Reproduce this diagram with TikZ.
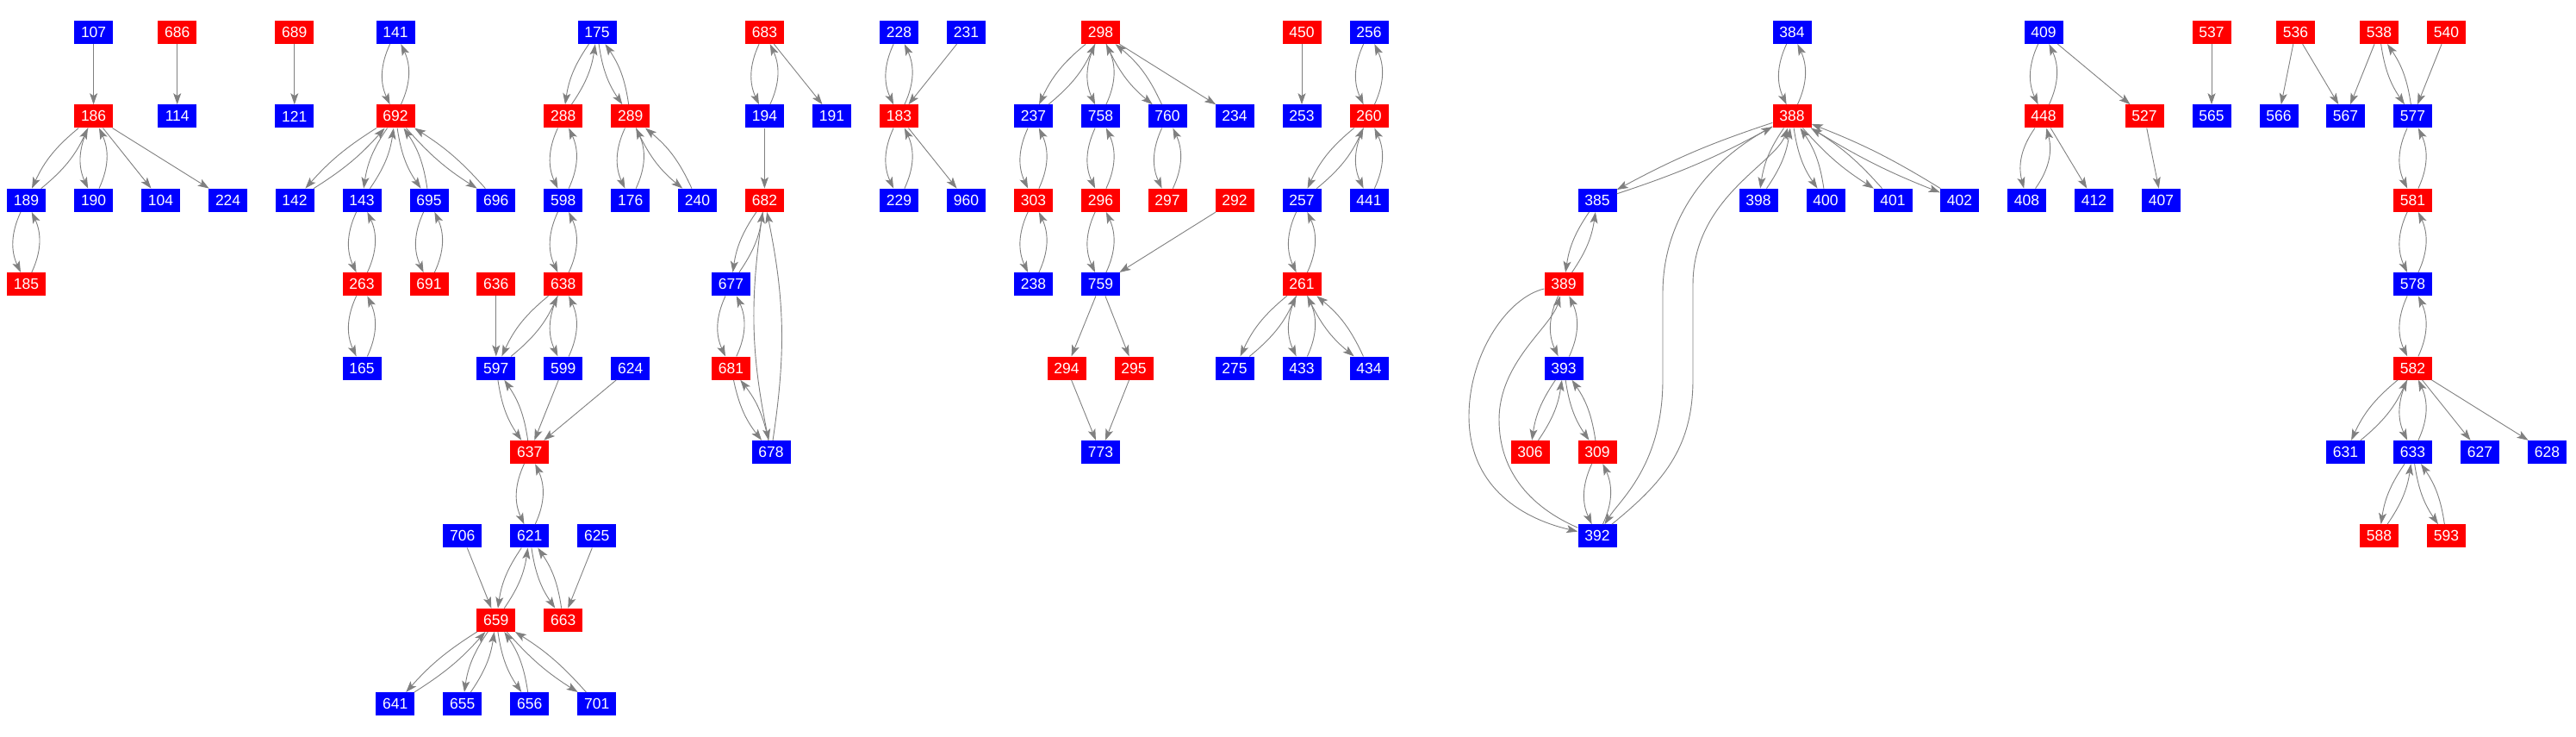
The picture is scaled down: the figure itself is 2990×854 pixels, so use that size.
\documentclass[tikz,border=0pt]{standalone}
\usepackage{fontspec}
\setsansfont{Liberation Sans}
\usetikzlibrary{arrows.meta}
\definecolor{nblue}{RGB}{0,0,255}
\definecolor{nred}{RGB}{255,0,0}
\definecolor{egray}{RGB}{128,128,128}
\tikzstyle{bn}=[rectangle, inner sep=0pt, fill=nblue, text=white, minimum width=45pt, minimum height=27pt, font=\sffamily\fontsize{17.5pt}{17.5pt}\selectfont]
\tikzstyle{rn}=[bn, fill=nred]
\tikzstyle{edge}=[draw=egray, line width=0.9pt, -{Stealth[length=13pt,width=9pt,inset=3pt]}]
\tikzstyle{pair}=[edge, bend right=25]
\tikzstyle{dpair}=[edge, bend right=13]
\tikzstyle{lpair}=[edge, bend right=8]
\tikzstyle{xpair}=[edge, bend right=5]

\begin{document}
\begin{tikzpicture}[x=1pt, y=1pt]
				\useasboundingbox (0,0) rectangle (2990,-854);

				%Top row
				\draw (108.6,-37.5) node[bn] (n107) {107};
				\draw (205.7,-37.5) node[rn] (n686) {686};
				\draw (341.8,-37.5) node[rn] (n689) {689};
				\draw (459,-37.5) node[bn] (n141) {141};
				\draw (693,-37.5) node[bn] (n175) {175};
				\draw (887.4,-37.5) node[rn] (n683) {683};
				\draw (1043.5,-37.5) node[bn] (n228) {228};
				\draw (1121.5,-37.5) node[bn] (n231) {231};
				\draw (1277.5,-37.5) node[rn] (n298) {298};
				\draw (1511,-37.5) node[rn] (n450) {450};
				\draw (1589,-37.5) node[bn] (n256) {256};
				\draw (2080,-37.5) node[bn] (n384) {384};
				\draw (2372,-37.5) node[bn] (n409) {409};
				\draw (2567,-37.5) node[rn] (n537) {537};
				\draw (2664.5,-37.5) node[rn] (n536) {536};
				\draw (2761.5,-37.5) node[rn] (n538) {538};
				\draw (2839.5,-37.5) node[rn] (n540) {540};

				%Second row
				\draw (108.6,-134.9) node[rn] (n186) {186};
				\draw (205.7,-134.9) node[bn] (n114) {114};
				\draw (341.8,-134.9) node[bn] (n121) {121};
				\draw (459,-134.9) node[rn] (n692) {692};
				\draw (653.8,-134.9) node[rn] (n288) {288};
				\draw (731.8,-134.9) node[rn] (n289) {289};
				\draw (887.4,-134.9) node[bn] (n194) {194};
				\draw (965.5,-134.9) node[bn] (n191) {191};
				\draw (1043.5,-134.9) node[rn] (n183) {183};
				\draw (1199.5,-134.9) node[bn] (n237) {237};
				\draw (1277.5,-134.9) node[bn] (n758) {758};
				\draw (1355,-134.9) node[bn] (n760) {760};
				\draw (1433,-134.9) node[bn] (n234) {234};
				\draw (1511,-134.9) node[bn] (n253) {253};
				\draw (1589,-134.9) node[rn] (n260) {260};
				\draw (2080,-134.9) node[rn] (n388) {388};
				\draw (2372,-134.9) node[rn] (n448) {448};
				\draw (2489,-134.9) node[rn] (n527) {527};
				\draw (2567,-134.9) node[bn] (n565) {565};
				\draw (2645,-134.9) node[bn] (n566) {566};
				\draw (2722.5,-134.9) node[bn] (n567) {567};
				\draw (2800.5,-134.9) node[bn] (n577) {577};

				%Third row
				\draw (30.4,-232.3) node[bn] (n189) {189};
				\draw (108.6,-232.3) node[bn] (n190) {190};
				\draw (186.4,-232.3) node[bn] (n104) {104};
				\draw (264.6,-232.3) node[bn] (n224) {224};
				\draw (342,-232.3) node[bn] (n142) {142};
				\draw (420,-232.3) node[bn] (n143) {143};
				\draw (498,-232.3) node[bn] (n695) {695};
				\draw (575.8,-232.3) node[bn] (n696) {696};
				\draw (653.8,-232.3) node[bn] (n598) {598};
				\draw (731.8,-232.3) node[bn] (n176) {176};
				\draw (809.5,-232.3) node[bn] (n240) {240};
				\draw (887.4,-232.3) node[rn] (n682) {682};
				\draw (1043.5,-232.3) node[bn] (n229) {229};
				\draw (1121.5,-232.3) node[bn] (n960) {960};
				\draw (1199.5,-232.3) node[rn] (n303) {303};
				\draw (1277.5,-232.3) node[rn] (n296) {296};
				\draw (1355,-232.3) node[rn] (n297) {297};
				\draw (1433,-232.3) node[rn] (n292) {292};
				\draw (1511,-232.3) node[bn] (n257) {257};
				\draw (1589,-232.3) node[bn] (n441) {441};
				\draw (1854,-232.3) node[bn] (n385) {385};
				\draw (2041,-232.3) node[bn] (n398) {398};
				\draw (2119,-232.3) node[bn] (n400) {400};
				\draw (2197,-232.3) node[bn] (n401) {401};
				\draw (2274.5,-232.3) node[bn] (n402) {402};
				\draw (2352.5,-232.3) node[bn] (n408) {408};
				\draw (2430.5,-232.3) node[bn] (n412) {412};
				\draw (2508.5,-232.3) node[bn] (n407) {407};
				\draw (2800.5,-232.3) node[rn] (n581) {581};

				%Fourth row
				\draw (30.4,-329.7) node[rn] (n185) {185};
				\draw (420,-329.7) node[rn] (n263) {263};
				\draw (498,-329.7) node[rn] (n691) {691};
				\draw (575.8,-329.7) node[rn] (n636) {636};
				\draw (653.8,-329.7) node[rn] (n638) {638};
				\draw (848.4,-329.7) node[bn] (n677) {677};
				\draw (1199.5,-329.7) node[bn] (n238) {238};
				\draw (1277.5,-329.7) node[bn] (n759) {759};
				\draw (1511,-329.7) node[rn] (n261) {261};
				\draw (1815,-329.7) node[rn] (n389) {389};
				\draw (2800.5,-329.7) node[bn] (n578) {578};

				%Fifth row
				\draw (420,-427.1) node[bn] (n165) {165};
				\draw (575.8,-427.1) node[bn] (n597) {597};
				\draw (653.8,-427.1) node[bn] (n599) {599};
				\draw (731.8,-427.1) node[bn] (n624) {624};
				\draw (848.4,-427.1) node[rn] (n681) {681};
				\draw (1238,-427.1) node[rn] (n294) {294};
				\draw (1316,-427.1) node[rn] (n295) {295};
				\draw (1433,-427.1) node[bn] (n275) {275};
				\draw (1511,-427.1) node[bn] (n433) {433};
				\draw (1589,-427.1) node[bn] (n434) {434};
				\draw (1815,-427.1) node[bn] (n393) {393};
				\draw (2800.5,-427.1) node[rn] (n582) {582};

				%Sixth row
				\draw (614.8,-524.5) node[rn] (n637) {637};
				\draw (895,-524.5) node[bn] (n678) {678};
				\draw (1277.5,-524.5) node[bn] (n773) {773};
				\draw (1776,-524.5) node[rn] (n306) {306};
				\draw (1854,-524.5) node[rn] (n309) {309};
				\draw (2722.5,-524.5) node[bn] (n631) {631};
				\draw (2800.5,-524.5) node[bn] (n633) {633};
				\draw (2878.5,-524.5) node[bn] (n627) {627};
				\draw (2956.5,-524.5) node[bn] (n628) {628};

				%Lower rows
				\draw (536.8,-621.9) node[bn] (n706) {706};
				\draw (614.8,-621.9) node[bn] (n621) {621};
				\draw (692.8,-621.9) node[bn] (n625) {625};
				\draw (1854,-621.9) node[bn] (n392) {392};
				\draw (2761.5,-621.9) node[rn] (n588) {588};
				\draw (2839.5,-621.9) node[rn] (n593) {593};
				\draw (575.8,-719.3) node[rn] (n659) {659};
				\draw (653.8,-719.3) node[rn] (n663) {663};
				\draw (458.8,-816.7) node[bn] (n641) {641};
				\draw (536.8,-816.7) node[bn] (n655) {655};
				\draw (614.8,-816.7) node[bn] (n656) {656};
				\draw (692.8,-816.7) node[bn] (n701) {701};

				%Single edges
				\draw[edge] (n107) -- (n186);
				\draw[edge] (n686) -- (n114);
				\draw[edge] (n689) -- (n121);
				\draw[edge] (n186) -- (n104);
				\draw[edge] (n186) -- (n224);
				\draw[edge] (n636) -- (n597);
				\draw[edge] (n599) -- (n637);
				\draw[edge] (n624) -- (n637);
				\draw[edge] (n706) -- (n659);
				\draw[edge] (n625) -- (n663);
				\draw[edge] (n683) -- (n191);
				\draw[edge] (n194) -- (n682);
				\draw[edge] (n231) -- (n183);
				\draw[edge] (n183) -- (n960);
				\draw[edge] (n298) -- (n234);
				\draw[edge] (n292) -- (n759);
				\draw[edge] (n759) -- (n294);
				\draw[edge] (n759) -- (n295);
				\draw[edge] (n294) -- (n773);
				\draw[edge] (n295) -- (n773);
				\draw[edge] (n450) -- (n253);
				\draw[edge] (n409) -- (n527);
				\draw[edge] (n448) -- (n412);
				\draw[edge] (n527) -- (n407);
				\draw[edge] (n537) -- (n565);
				\draw[edge] (n536) -- (n566);
				\draw[edge] (n536) -- (n567);
				\draw[edge] (n538) -- (n567);
				\draw[edge] (n540) -- (n577);
				\draw[edge] (n582) -- (n627);
				\draw[edge] (n582) -- (n628);

				%Edges both ways: 186 and 692
				\draw[dpair] (n186) to (n189);
				\draw[dpair] (n189) to (n186);
				\draw[pair] (n186) to (n190);
				\draw[pair] (n190) to (n186);
				\draw[pair] (n189) to (n185);
				\draw[pair] (n185) to (n189);
				\draw[pair] (n141) to (n692);
				\draw[pair] (n692) to (n141);
				\draw[lpair] (n692) to (n142);
				\draw[lpair] (n142) to (n692);
				\draw[dpair] (n692) to (n143);
				\draw[dpair] (n143) to (n692);
				\draw[dpair] (n692) to (n695);
				\draw[dpair] (n695) to (n692);
				\draw[lpair] (n692) to (n696);
				\draw[lpair] (n696) to (n692);
				\draw[pair] (n143) to (n263);
				\draw[pair] (n263) to (n143);
				\draw[pair] (n695) to (n691);
				\draw[pair] (n691) to (n695);
				\draw[pair] (n263) to (n165);
				\draw[pair] (n165) to (n263);

				%175 down to 659
				\draw[dpair] (n175) to (n288);
				\draw[dpair] (n288) to (n175);
				\draw[dpair] (n175) to (n289);
				\draw[dpair] (n289) to (n175);
				\draw[pair] (n288) to (n598);
				\draw[pair] (n598) to (n288);
				\draw[pair] (n289) to (n176);
				\draw[pair] (n176) to (n289);
				\draw[dpair] (n289) to (n240);
				\draw[dpair] (n240) to (n289);
				\draw[pair] (n598) to (n638);
				\draw[pair] (n638) to (n598);
				\draw[dpair] (n638) to (n597);
				\draw[dpair] (n597) to (n638);
				\draw[pair] (n638) to (n599);
				\draw[pair] (n599) to (n638);
				\draw[dpair] (n597) to (n637);
				\draw[dpair] (n637) to (n597);
				\draw[pair] (n637) to (n621);
				\draw[pair] (n621) to (n637);
				\draw[dpair] (n621) to (n659);
				\draw[dpair] (n659) to (n621);
				\draw[dpair] (n621) to (n663);
				\draw[dpair] (n663) to (n621);
				\draw[lpair] (n659) to (n641);
				\draw[lpair] (n641) to (n659);
				\draw[dpair] (n659) to (n655);
				\draw[dpair] (n655) to (n659);
				\draw[dpair] (n659) to (n656);
				\draw[dpair] (n656) to (n659);
				\draw[lpair] (n659) to (n701);
				\draw[lpair] (n701) to (n659);

				%683 and 183
				\draw[pair] (n683) to (n194);
				\draw[pair] (n194) to (n683);
				\draw[dpair] (n682) to (n677);
				\draw[dpair] (n677) to (n682);
				\draw[pair] (n677) to (n681);
				\draw[pair] (n681) to (n677);
				\draw[dpair] (n681) to (n678);
				\draw[dpair] (n678) to (n681);
				\draw[edge, bend right=10] (n682) to (n678);
				\draw[edge, bend right=10] (n678) to (n682);
				\draw[pair] (n228) to (n183);
				\draw[pair] (n183) to (n228);
				\draw[pair] (n183) to (n229);
				\draw[pair] (n229) to (n183);

				%298 and 260
				\draw[dpair] (n298) to (n237);
				\draw[dpair] (n237) to (n298);
				\draw[pair] (n298) to (n758);
				\draw[pair] (n758) to (n298);
				\draw[dpair] (n298) to (n760);
				\draw[dpair] (n760) to (n298);
				\draw[pair] (n237) to (n303);
				\draw[pair] (n303) to (n237);
				\draw[pair] (n758) to (n296);
				\draw[pair] (n296) to (n758);
				\draw[pair] (n760) to (n297);
				\draw[pair] (n297) to (n760);
				\draw[pair] (n303) to (n238);
				\draw[pair] (n238) to (n303);
				\draw[pair] (n296) to (n759);
				\draw[pair] (n759) to (n296);
				\draw[pair] (n256) to (n260);
				\draw[pair] (n260) to (n256);
				\draw[dpair] (n260) to (n257);
				\draw[dpair] (n257) to (n260);
				\draw[pair] (n260) to (n441);
				\draw[pair] (n441) to (n260);
				\draw[pair] (n257) to (n261);
				\draw[pair] (n261) to (n257);
				\draw[dpair] (n261) to (n275);
				\draw[dpair] (n275) to (n261);
				\draw[pair] (n261) to (n433);
				\draw[pair] (n433) to (n261);
				\draw[dpair] (n261) to (n434);
				\draw[dpair] (n434) to (n261);

				%388
				\draw[pair] (n384) to (n388);
				\draw[pair] (n388) to (n384);
				\draw[xpair] (n388) to (n385);
				\draw[xpair] (n385) to (n388);
				\draw[dpair] (n388) to (n398);
				\draw[dpair] (n398) to (n388);
				\draw[dpair] (n388) to (n400);
				\draw[dpair] (n400) to (n388);
				\draw[lpair] (n388) to (n401);
				\draw[lpair] (n401) to (n388);
				\draw[xpair] (n388) to (n402);
				\draw[xpair] (n402) to (n388);
				\draw[dpair] (n385) to (n389);
				\draw[dpair] (n389) to (n385);
				\draw[pair] (n389) to (n393);
				\draw[pair] (n393) to (n389);
				\draw[dpair] (n393) to (n306);
				\draw[dpair] (n306) to (n393);
				\draw[dpair] (n393) to (n309);
				\draw[dpair] (n309) to (n393);
				\draw[pair] (n309) to (n392);
				\draw[pair] (n392) to (n309);
				\draw[edge] (n388) .. controls (1975,-190) and (1930,-260) .. (1930,-340) -- (1930,-440) .. controls (1930,-540) and (1880,-580) .. (n392);
				\draw[edge] (n392) .. controls (1930,-560) and (1965,-520) .. (1965,-440) -- (1965,-330) .. controls (1965,-230) and (2060,-190) .. (n388);
				\draw[edge] (n389) .. controls (1750,-345) and (1705,-410) .. (1705,-483) .. controls (1705,-560) and (1760,-600) .. (n392);
				\draw[edge] (n392) .. controls (1780,-590) and (1740,-550) .. (1740,-487) .. controls (1740,-420) and (1800,-380) .. (n389);

				%409 and 577
				\draw[pair] (n409) to (n448);
				\draw[pair] (n448) to (n409);
				\draw[pair] (n448) to (n408);
				\draw[pair] (n408) to (n448);
				\draw[dpair] (n538) to (n577);
				\draw[dpair] (n577) to (n538);
				\draw[pair] (n577) to (n581);
				\draw[pair] (n581) to (n577);
				\draw[pair] (n581) to (n578);
				\draw[pair] (n578) to (n581);
				\draw[pair] (n578) to (n582);
				\draw[pair] (n582) to (n578);
				\draw[dpair] (n582) to (n631);
				\draw[dpair] (n631) to (n582);
				\draw[pair] (n582) to (n633);
				\draw[pair] (n633) to (n582);
				\draw[dpair] (n633) to (n588);
				\draw[dpair] (n588) to (n633);
				\draw[dpair] (n633) to (n593);
				\draw[dpair] (n593) to (n633);
			\end{tikzpicture}
\end{document}
